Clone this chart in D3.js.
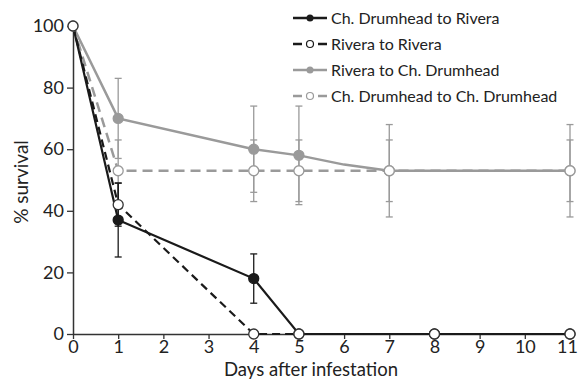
<!DOCTYPE html>
<html>
<head>
<meta charset="utf-8">
<script src="https://cdn.jsdelivr.net/npm/d3@7"></script>
<style>
body { margin: 0; background: #fff; }
text { font-family: Lato, "Open Sans", sans-serif; fill: #222; }
</style>
</head>
<body>
<script>
// data
var seriesNames = ["Ch. Drumhead to Rivera", "Rivera to Rivera", "Rivera to Ch. Drumhead", "Ch. Drumhead to Ch. Drumhead"]

// Ch. Drumhead to Rivera
var cdrDays = [0, 1, 4, 5, 8, 11]
var cdrVals = [100, 37, 18, 0, 0, 0]
var cdrErr  = [0, 12, 8, 0, 0, 0]
// Rivera to Rivera
var rrDays = [0, 1, 4, 5, 8, 11]
var rrVals = [100, 42, 0, 0, 0, 0]
var rrErr  = [0, 7, 0, 0, 0, 0]
// Rivera to Ch. Drumhead (day 6 has no marker)
var rcdDays = [0, 1, 4, 5, 6, 7, 11]
var rcdVals = [100, 70, 60, 58, 55, 53, 53]
var rcdErr  = [0, 13, 14, 16, null, 15, 15]
// Ch. Drumhead to Ch. Drumhead
var cdcdDays = [0, 1, 4, 5, 7, 11]
var cdcdVals = [100, 53, 53, 53, 53, 53]
var cdcdErr  = [0, 10, 10, 10, 10, 10]

var xTicks = [0, 1, 2, 3, 4, 5, 6, 7, 8, 9, 10, 11]
var yTicks = [0, 20, 40, 60, 80, 100]

var width = 579, height = 381
var svg = d3.select("body").append("svg")
	.attr("width", width)
	.attr("height", height)

var x = d3.scaleLinear().domain([0, 11]).range([73, 570])
var y = d3.scaleLinear().domain([0, 100]).range([334, 26])

var black = "#1a1a1a", gray = "#9a9a9a"

// axes
var xAxis = svg.append("g")
	.attr("transform", "translate(0," + y(0) + ")")
	.call(d3.axisBottom(x).tickValues(xTicks).tickSize(5).tickSizeOuter(0).tickPadding(2))
var yAxis = svg.append("g")
	.attr("transform", "translate(" + x(0) + ",0)")
	.call(d3.axisLeft(y).tickValues(yTicks).tickSize(6).tickSizeOuter(0).tickPadding(3))

svg.selectAll(".domain").attr("stroke", "#333").attr("stroke-width", 1.5)
svg.selectAll(".tick line").attr("stroke", "#333").attr("stroke-width", 1.3)
svg.selectAll(".tick text").style("font-size", "18px").attr("fill", "#222")
xAxis.selectAll(".tick text").attr("dy", "0.65em")
xAxis.selectAll(".tick text").filter(function(d) { return d == 11 }).attr("dx", -3)

svg.append("text")
	.attr("x", 311)
	.attr("y", 376)
	.attr("text-anchor", "middle")
	.style("font-size", "18.5px")
	.text("Days after infestation")

svg.append("text")
	.attr("transform", "translate(28,182) rotate(-90)")
	.attr("text-anchor", "middle")
	.style("font-size", "19px")
	.text("% survival")

function toPts(ds, vs, es) {
	return ds.map(function(d, i) { return {d: d, v: vs[i], e: es[i]} })
}

var series = [
	{name: seriesNames[2], pts: toPts(rcdDays, rcdVals, rcdErr), color: gray, dash: null, filled: true, w: 2.5, ew: 1.3, markAt: [1, 4, 5, 7, 11]},
	{name: seriesNames[3], pts: toPts(cdcdDays, cdcdVals, cdcdErr), color: gray, dash: "10,6", filled: false, w: 2.5, ew: 1.3, markAt: [0, 1, 4, 5, 7, 11]},
	{name: seriesNames[0], pts: toPts(cdrDays, cdrVals, cdrErr), color: black, dash: null, filled: true, w: 2.2, ew: 1.3, markAt: [1, 4, 5, 8, 11]},
	{name: seriesNames[1], pts: toPts(rrDays, rrVals, rrErr), color: black, dash: "8,5", filled: false, w: 2.2, ew: 1.3, markAt: [0, 1, 4, 5, 8, 11]}
]

var line = d3.line().x(function(p) { return x(p.d) }).y(function(p) { return y(p.v) })

// error bars first
series.forEach(function(s) {
	var g = svg.append("g")
	s.pts.filter(function(p) { return p.e }).forEach(function(p) {
		g.append("line")
			.attr("x1", x(p.d)).attr("x2", x(p.d))
			.attr("y1", y(p.v - p.e)).attr("y2", y(p.v + p.e))
			.attr("stroke", s.color).attr("stroke-width", s.ew)
		;[p.v - p.e, p.v + p.e].forEach(function(v) {
			g.append("line")
				.attr("x1", x(p.d) - 3.5).attr("x2", x(p.d) + 3.5)
				.attr("y1", y(v)).attr("y2", y(v))
				.attr("stroke", s.color).attr("stroke-width", s.ew)
		})
	})
})

series.forEach(function(s) {
	svg.append("path")
		.datum(s.pts)
		.attr("d", line)
		.attr("fill", "none")
		.attr("stroke", s.color)
		.attr("stroke-width", s.w)
		.attr("stroke-dasharray", s.dash)
})

series.forEach(function(s) {
	svg.selectAll(null)
		.data(s.pts.filter(function(p) { return s.markAt.indexOf(p.d) >= 0 }))
		.enter().append("circle")
		.attr("cx", function(p) { return x(p.d) })
		.attr("cy", function(p) { return y(p.v) })
		.attr("r", 5)
		.attr("fill", s.filled ? s.color : "#fff")
		.attr("stroke", s.filled ? s.color : (s.color == black ? "#333" : gray))
		.attr("stroke-width", 1.3)
})

// legend
var legendOrder = [series[2], series[3], series[0], series[1]]
var leg = svg.append("g")
legendOrder.forEach(function(s, i) {
	var ly = 18 + i * 26
	if (s.dash) {
		leg.append("line").attr("x1", 293).attr("x2", 302).attr("y1", ly).attr("y2", ly)
			.attr("stroke", s.color).attr("stroke-width", 2.5)
		leg.append("line").attr("x1", 318).attr("x2", 327).attr("y1", ly).attr("y2", ly)
			.attr("stroke", s.color).attr("stroke-width", 2.5)
		leg.append("circle").attr("cx", 310).attr("cy", ly).attr("r", 3.5)
			.attr("fill", "#fff").attr("stroke", s.color).attr("stroke-width", 1.2)
	} else {
		leg.append("line").attr("x1", 293).attr("x2", 327).attr("y1", ly).attr("y2", ly)
			.attr("stroke", s.color).attr("stroke-width", 2.5)
		leg.append("circle").attr("cx", 310).attr("cy", ly).attr("r", 3.5)
			.attr("fill", s.color)
	}
	leg.append("text")
		.attr("x", 331).attr("y", ly)
		.attr("dy", "0.35em")
		.style("font-size", "16px")
		.text(s.name)
})
</script>
</body>
</html>
